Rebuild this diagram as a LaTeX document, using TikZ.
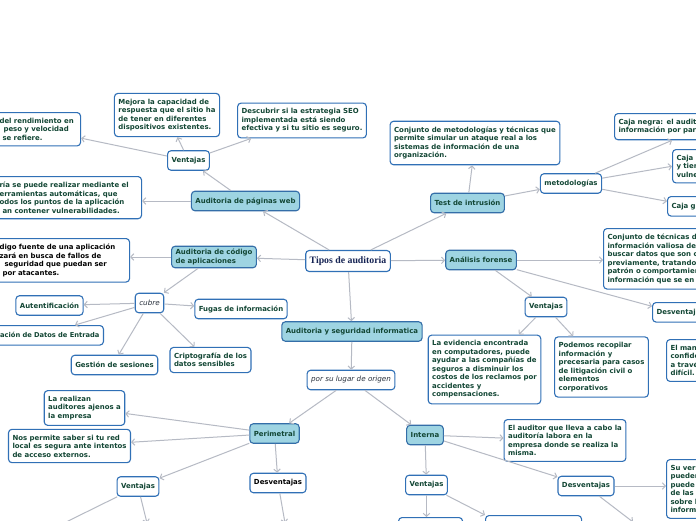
\documentclass[tikz,border=0pt]{standalone}
\usepackage{fontspec}
\setmainfont{DejaVu Sans}
\newfontfamily\titlefont{Liberation Serif}
\usepackage{xcolor}
\usepackage{tikz}
\definecolor{txtgreen}{RGB}{18,70,52}
\definecolor{boxblue}{RGB}{48,112,182}
\definecolor{topicfill}{RGB}{158,212,226}
\definecolor{topicline}{RGB}{52,110,168}
\definecolor{linegray}{RGB}{182,186,196}
\definecolor{titlenavy}{RGB}{22,36,84}
\definecolor{linktext}{RGB}{40,48,60}
\usetikzlibrary{arrows.meta, positioning, calc}

\begin{document}
\begin{tikzpicture}[x=1pt, y=-1pt,
    leaf/.style={rectangle, rounded corners=3.5pt, draw=boxblue, line width=1.1pt, fill=white,
                 inner xsep=4pt, inner ysep=5.5pt, align=left, text=txtgreen,
                 font=\fontsize{6.95}{8.5}\selectfont\bfseries},
    head/.style={leaf, inner xsep=4pt, inner ysep=3pt, minimum height=19.5pt},
    topic/.style={head, fill=topicfill, draw=topicline},
    link/.style={head, font=\fontsize{7.2}{8.5}\selectfont\itshape, text=linktext},
    arr/.style={-{Straight Barb[length=3pt, width=6.5pt]}, draw=linegray, line width=1pt}
]
    \useasboundingbox (0,0) rectangle (696,520);
    \fill[white] (0,0) rectangle (696,520);
    \clip (0,0) rectangle (696,520);

    % centro y temas
    \node[head, font=\titlefont\fontsize{9.8}{11}\selectfont\bfseries, text=titlenavy,
          minimum height=21pt] (tipos) at (348,261) {Tipos de auditoria};
    \node[topic] (web)     at (245.5,201) {Auditoria de páginas web};
    \node[topic] (codigo)  at (214,257)   {Auditoria de código\\de aplicaciones};
    \node[topic] (test)    at (467.5,203) {Test de intrusión};
    \node[topic] (forense) at (481,260)   {Análisis forense};
    \node[topic] (seginf)  at (352,331.5) {Auditoria y seguridad informatica};

    % paginas web
    \node[head] (webvent) at (188.5,160.5) {Ventajas};
    \node[leaf, anchor=north west, text width=138pt] (webauto) at (-5,176)
        {ría se puede realizar mediante el\\erramientas automáticas, que\\odos los puntos de la aplicación\\\hspace*{3pt}an contener vulnerabilidades.};
    \node[leaf, anchor=north west, text width=77pt] (webrend) at (-5,112)
        {del rendimiento en\\\hspace*{4pt}peso y velocidad\\\hspace*{3pt}se refiere.};
    \node[leaf] (webmejora) at (167,115)
        {Mejora la capacidad de\\respuesta que el sitio ha\\de tener en diferentes\\dispositivos existentes.};
    \node[leaf] (webseo) at (302,120.5)
        {Descubrir si la estrategia SEO\\implementada está siendo\\efectiva y si tu sitio es seguro.};

    % codigo de aplicaciones
    \node[leaf, anchor=north west, text width=126pt, text=black] (codfuente) at (-5,238)
        {digo fuente de una aplicación\\zará en busca de fallos de\\\hspace*{5pt}seguridad que puedan ser\\\hspace*{3pt}por atacantes.};
    \node[link] (cubre)   at (149.5,303) {cubre};
    \node[head] (autent)  at (49.5,305.5) {Autentificación};
    \node[head, anchor=north east, text width=130pt, align=right,
          font=\fontsize{6.7}{8.5}\selectfont\bfseries] (validac) at (104,325) {ación de Datos de Entrada};
    \node[head] (gestion) at (114.5,365) {Gestión de sesiones};
    \node[leaf] (cripto)  at (210.5,360) {Criptografía de los\\datos sensibles};
    \node[head] (fugas)   at (241,309)   {Fugas de información};

    % test de intrusion
    \node[leaf] (testdef) at (475,143)
        {Conjunto de metodologías y técnicas que\\permite simular un ataque real a los\\sistemas de información de una\\organización.};
    \node[head] (metod) at (571,183.5) {metodologías};
    \node[leaf, anchor=north west, text width=120pt] (cajanegra) at (614,113)
        {Caja negra: el audit\\información por par};
    \node[leaf, anchor=north west, text width=80pt] (cajablanca) at (672,149)
        {Caja b\\y tien\\vulne};
    \node[head, anchor=north west, text width=80pt] (cajagris) at (667,196) {Caja g};

    % analisis forense
    \node[leaf, anchor=north west, text width=120pt] (forensedef) at (603,228)
        {Conjunto de técnicas d\\información valiosa de\\buscar datos que son c\\previamente, tratando\\patrón o comportamien\\información que se en};
    \node[head, anchor=north west, text width=80pt] (forensedesv) at (652,302) {Desventaj};
    \node[head] (forensevent) at (546,307) {Ventajas};
    \node[leaf] (evidencia) at (484.5,369.5)
        {La evidencia encontrada\\en computadores, puede\\ayudar a las compañías de\\seguros a disminuir los\\costos de los reclamos por\\accidentes y\\compensaciones.};
    \node[leaf] (recopilar) at (601.5,367)
        {Podemos recopilar\\información y\\precesaria para casos\\de litigación civil o\\elementos\\corporativos};
    \node[leaf, anchor=north west, text width=80pt] (elman) at (666,339)
        {El man\\confide\\a travé\\difícil.};

    % auditoria y seguridad informatica
    \node[link] (origen)   at (351,380)   {por su lugar de origen};
    \node[topic] (perim)   at (274.5,433.5) {Perimetral};
    \node[topic] (interna) at (425,435)   {Interna};
    \node[leaf] (ajenos)   at (84.5,408)  {La realizan\\auditores ajenos a\\la empresa};
    \node[leaf] (redlocal) at (69.5,446)  {Nos permite saber si tu red\\local es segura ante intentos\\de acceso externos.};
    \node[head] (perimvent) at (138,486.5) {Ventajas};
    \node[head, text=black] (perimdesv) at (278,483) {Desventajas};
    \node[leaf] (internadef) at (565,440.5)
        {El auditor que lleva a cabo la\\auditoría labora en la\\empresa donde se realiza la\\misma.};
    \node[head] (internavent) at (426.5,485) {Ventajas};
    \node[head] (internadesv) at (586,486)   {Desventajas};
    \node[leaf, anchor=north west, text width=80pt] (suver) at (666,459)
        {Su ver\\pueden\\puede\\de las\\sobre l\\inform};
    \node[head, anchor=north west, minimum width=64pt] (intbox1) at (398,517) {};
    \node[head, anchor=north west, minimum width=96pt] (intbox2) at (485,515) {};
    \coordinate (pvout1) at (58,526);
    \coordinate (pvout2) at (147,523);
    \coordinate (pdout)  at (285,523);
    \coordinate (idout)  at (633,522);

    % conectores
    \draw[arr] (tipos) -- (web);
    \draw[arr] (tipos) -- (codigo);
    \draw[arr] (tipos) -- (test);
    \draw[arr] (tipos) -- (forense);
    \draw[arr] (tipos) -- (seginf);
    \draw[arr] (web) -- (webvent);
    \draw[arr] (web) -- (web -| webauto.east);
    \draw[arr] (webvent) -- (webrend);
    \draw[arr] (webvent) -- (webmejora);
    \draw[arr] (webvent) -- (webseo);
    \draw[arr] (codigo) -- (codigo -| codfuente.east);
    \draw[arr] (codigo) -- (cubre);
    \draw[arr] (cubre) -- (autent);
    \draw[arr] (cubre) -- ([xshift=-29pt]validac.north east);
    \draw[arr] (cubre) -- ([xshift=48pt]gestion.north west);
    \draw[arr] (cubre) -- ([xshift=25pt]cripto.north west);
    \draw[arr] (cubre) -- (fugas);
    \draw[arr] (test) -- (testdef);
    \draw[arr] (test) -- (metod);
    \draw[arr] (metod) -- ([xshift=58pt]cajanegra.south west);
    \draw[arr] (metod) -- (cajablanca.west);
    \draw[arr] (metod) -- ([yshift=5pt]cajagris.west);
    \draw[arr] (forense) -- (forense -| forensedef.west);
    \draw[arr] (forense) -- ([yshift=6pt]forensedesv.west);
    \draw[arr] (forense) -- (forensevent);
    \draw[arr] (forensevent) -- (evidencia);
    \draw[arr] (forensevent) -- (recopilar);
    \draw[arr] (seginf) -- (origen);
    \draw[arr] (origen) -- (perim);
    \draw[arr] (origen) -- (interna);
    \draw[arr] (perim) -- (ajenos);
    \draw[arr] (perim) -- (redlocal);
    \draw[arr] (perim) -- (perimvent);
    \draw[arr] (perim) -- (perimdesv);
    \draw[arr] (perimvent) -- (pvout1);
    \draw[arr] (perimvent) -- (pvout2);
    \draw[arr] (perimdesv) -- (pdout);
    \draw[arr] (interna) -- (internadef);
    \draw[arr] (interna) -- (internadesv);
    \draw[arr] (interna) -- (internavent);
    \draw[arr] (internadesv) -- (internadesv -| suver.west);
    \draw[arr] (internadesv) -- (idout);
    \draw[arr] (internavent) -- (internavent |- intbox1.north);
    \draw[arr] (internavent) -- (intbox2.north west);
\end{tikzpicture}
\end{document}
